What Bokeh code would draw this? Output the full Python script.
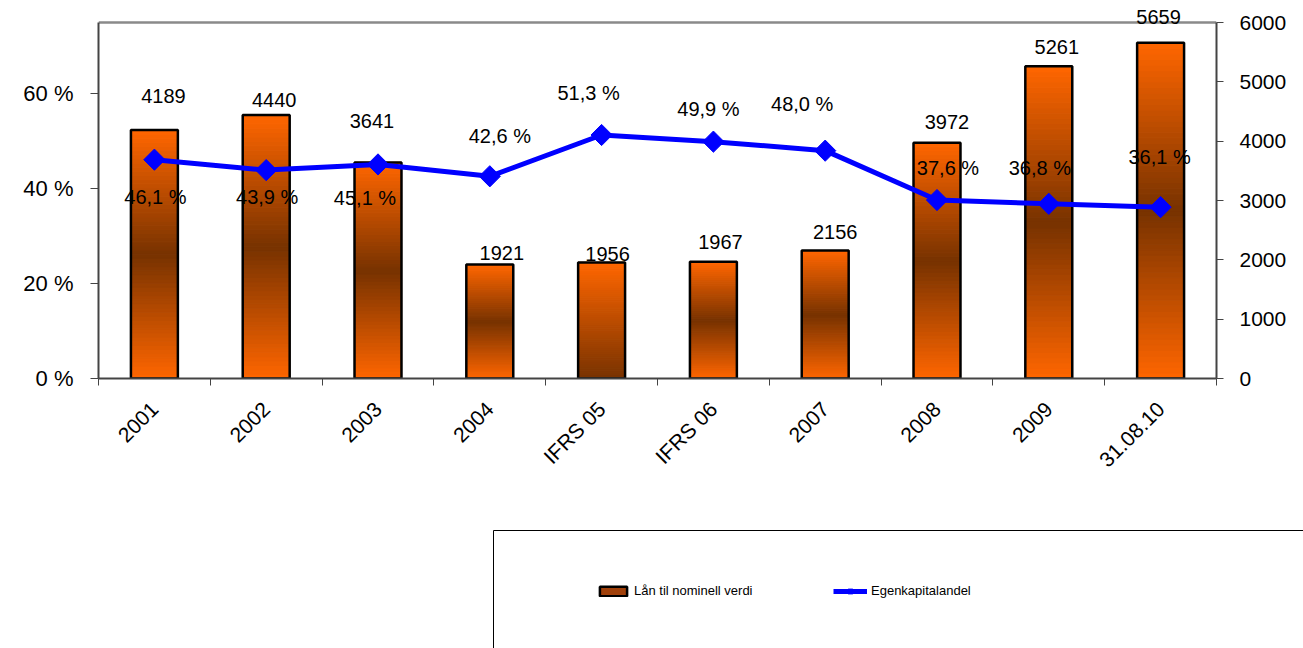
import math
from bokeh.plotting import figure
from bokeh.models import (Range1d, LinearAxis, FixedTicker, ColumnDataSource, Legend,
                          LegendItem, LabelSet)
from bokeh.core.properties import value
from bokeh.layouts import column
from bokeh.embed import file_html
from bokeh.resources import INLINE

# ---------------- data ----------------
categories = ["2001", "2002", "2003", "2004", "IFRS 05", "IFRS 06", "2007", "2008", "2009", "31.08.10"]
loans = [4189, 4440, 3641, 1921, 1956, 1967, 2156, 3972, 5261, 5659]
equity_share = [46.1, 43.9, 45.1, 42.6, 51.3, 49.9, 48.0, 37.6, 36.8, 36.1]
pct_ticks = [0, 20, 40, 60]
pct_tick_labels = ["0 %", "20 %", "40 %", "60 %"]
loan_ticks = [0, 1000, 2000, 3000, 4000, 5000, 6000]
pct_axis_max = 75
loan_axis_max = 6000
series_names = ["Lån til nominell verdi", "Egenkapitalandel"]

# ---------------- style ----------------
FONT = "Liberation Sans"
ORANGE = (255, 102, 0)
DARK = (119, 50, 0)
gradient_kind = ["mirror", "mirror", "mirror", "mirror", "down", "mirror", "mirror", "mirror", "mirror", "mirror"]
bar_label_dx = [9, 8, -6, 12, 6, 7, 10, 10, 8, -2]
bar_label_dy = [34, 15, 41, 12, 8, 20, 19, 21, 19, 26]
pct_label_dx = [1, 1, -13, 10, -13, -5, -23, 11, -9, -1]
pct_label_dy = [-37, -27, -34, 40, 42, 33, 47, 32, 36, 50]
BAR_W = 0.42
NSEG = 60
PLOT_H = 356      # pixel height of the axis span
HEADROOM = 22     # pixels above the axis top (room for labels)
HF = (PLOT_H + HEADROOM) / PLOT_H

n = len(categories)
xc = [i + 0.5 for i in range(n)]


def mix(t):
    r = [round(ORANGE[k] + (DARK[k] - ORANGE[k]) * t) for k in range(3)]
    return "#%02x%02x%02x" % tuple(r)


p = figure(width=1303, height=508, output_backend="svg", toolbar_location=None,
           x_range=Range1d(0, n), y_range=Range1d(0, pct_axis_max * HF),
           min_border_left=98, min_border_right=87, min_border_top=0, min_border_bottom=130)
p.frame_align = False
p.extra_y_ranges = {"right": Range1d(0, loan_axis_max * HF)}
p.xgrid.visible = False
p.ygrid.visible = False
p.outline_line_color = None
p.background_fill_color = "white"
p.border_fill_color = "white"

# top border line of the plot area (at the axis maximum), drawn as a segment glyph
p.segment(x0=[0], y0=[pct_axis_max], x1=[n], y1=[pct_axis_max],
          line_color="#8a8a8a", line_width=2.5)

# gradient bars (segments computed from data values)
qs = dict(left=[], right=[], bottom=[], top=[], color=[])
for i, v in enumerate(loans):
    for k in range(NSEG):
        f = (k + 0.5) / NSEG
        if gradient_kind[i] == "mirror":
            t = 1 - abs(2 * f - 1)
        else:
            t = 1 - f
        qs["left"].append(xc[i] - BAR_W / 2)
        qs["right"].append(xc[i] + BAR_W / 2)
        qs["bottom"].append(v * k / NSEG)
        qs["top"].append(v * (k + 1) / NSEG)
        qs["color"].append(mix(t))
p.quad(left="left", right="right", bottom="bottom", top="top", fill_color="color",
       line_color="color", line_width=1.2, source=ColumnDataSource(qs), y_range_name="right")
p.vbar(x=xc, top=loans, width=BAR_W, fill_color=None, line_color="black", line_width=2.5,
       y_range_name="right")

# line
p.line(xc, equity_share, line_color="#0000FF", line_width=5)
p.scatter(xc, equity_share, marker="square", angle=math.pi / 4, size=15,
          fill_color="#0000FF", line_color="#0000FF")

# labels
bar_src = ColumnDataSource(dict(x=xc, y=loans, text=[str(v) for v in loans],
                                dx=bar_label_dx, dy=bar_label_dy))
pct_src = ColumnDataSource(dict(x=xc, y=equity_share,
                                text=[("%.1f" % v).replace(".", ",") + " %" for v in equity_share],
                                dx=pct_label_dx, dy=pct_label_dy))
p.add_layout(LabelSet(x="x", y="y", text="text", source=bar_src, y_range_name="right",
                      x_offset="dx", y_offset="dy", text_align="center", text_baseline="middle",
                      text_font=value(FONT), text_font_size="20px", text_color="black"))
p.add_layout(LabelSet(x="x", y="y", text="text", source=pct_src,
                      x_offset="dx", y_offset="dy", text_align="center", text_baseline="middle",
                      text_font=value(FONT), text_font_size="20px", text_color="black"))

AX = "#444444"
# x axis
xa = p.xaxis[0]
xa.ticker = FixedTicker(ticks=xc, minor_ticks=list(range(n + 1)))
xa.major_label_overrides = {x: c for x, c in zip(xc, categories)}
xa.major_label_orientation = math.pi / 4
xa.major_tick_out = 0
xa.major_tick_in = 0
xa.minor_tick_out = 7
xa.minor_tick_in = 0
xa.minor_tick_line_color = AX
xa.axis_line_color = AX
xa.axis_line_width = 2
xa.major_label_text_font = FONT
xa.major_label_text_font_size = "21px"
xa.major_label_text_color = "black"
xa.major_label_standoff = 20

# left axis
ya = p.yaxis[0]
ya.bounds = (0, pct_axis_max)
ya.ticker = FixedTicker(ticks=pct_ticks, minor_ticks=[])
ya.major_label_overrides = {t: l for t, l in zip(pct_ticks, pct_tick_labels)}
ya.major_tick_out = 8
ya.major_tick_in = 0
ya.major_tick_line_color = AX
ya.axis_line_color = AX
ya.axis_line_width = 2
ya.major_label_text_font = FONT
ya.major_label_text_font_size = "22px"
ya.major_label_text_color = "black"
ya.major_label_standoff = 17

# right axis
ra = LinearAxis(y_range_name="right", ticker=FixedTicker(ticks=loan_ticks, minor_ticks=[]),
                bounds=(0, loan_axis_max))
ra.major_tick_out = 7
ra.major_tick_in = 0
ra.major_tick_line_color = AX
ra.axis_line_color = AX
ra.axis_line_width = 2
ra.major_label_text_font = FONT
ra.major_label_text_font_size = "21px"
ra.major_label_text_color = "black"
ra.major_label_standoff = 16
p.add_layout(ra, "right")

# ---------------- legend panel ----------------
p2 = figure(width=1303, height=140, output_backend="svg", toolbar_location=None,
            x_range=Range1d(0, 1), y_range=Range1d(0, 1), x_axis_location="above",
            min_border_left=493, min_border_right=0, min_border_top=22, min_border_bottom=0)
p2.frame_align = False
p2.outline_line_color = None
p2.grid.visible = False
for ax in p2.axis:
    ax.ticker = FixedTicker(ticks=[], minor_ticks=[])
    ax.axis_line_color = "black"
    ax.axis_line_width = 1
    ax.major_tick_line_color = None
    ax.minor_tick_line_color = None
    ax.major_label_standoff = 0

rb = p2.vbar(x=[-10], top=[-10], width=0.5, fill_color="#A0400A", line_color="black", line_width=2.5)
rl = p2.line(x=[-10, -9], y=[-10, -10], line_color="#0000FF", line_width=5)
rm = p2.scatter(x=[-10], y=[-10], marker="square", angle=math.pi / 4, size=6,
                fill_color="#0000FF", line_color="#0000FF")

leg_style = dict(padding=0, margin=0, border_line_color=None, background_fill_alpha=0,
                 glyph_width=34, glyph_height=12, label_standoff=4, label_text_color="black",
                 label_text_font=FONT, label_text_font_size="13px", label_height=14)
leg1 = Legend(items=[LegendItem(label=series_names[0], renderers=[rb])], location=(103, 50), **leg_style)
leg2 = Legend(items=[LegendItem(label=series_names[1], renderers=[rl, rm])], location=(340, 50), **leg_style)
p2.add_layout(leg1, "center")
p2.add_layout(leg2, "center")

layout = column(p, p2, spacing=0)
open("out.html", "w").write(file_html(layout, INLINE))
